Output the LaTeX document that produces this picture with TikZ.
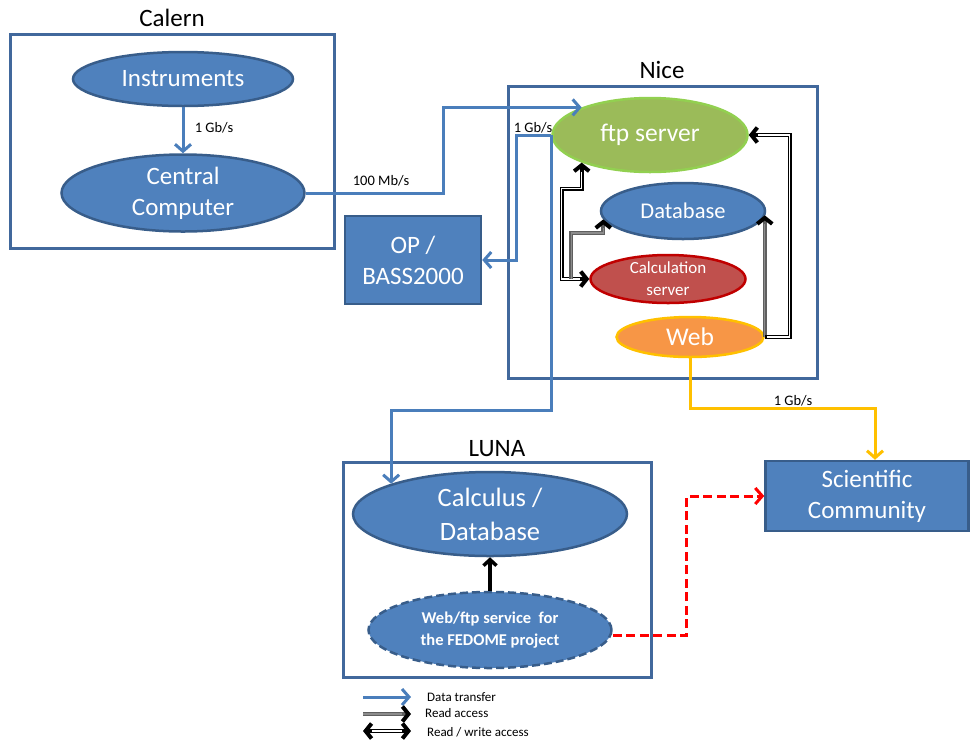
\documentclass[tikz,border=0pt]{standalone}
\usepackage{fontspec}
\setmainfont{Carlito}
\usetikzlibrary{arrows.meta,shapes.geometric,calc}
\definecolor{framec}{HTML}{41689C}
\definecolor{blueF}{HTML}{4F81BD}
\definecolor{blueS}{HTML}{385D8A}
\definecolor{dataC}{HTML}{4A7EBB}
\definecolor{greenF}{HTML}{9BBB59}
\definecolor{greenS}{HTML}{92D050}
\definecolor{redF}{HTML}{C0504D}
\definecolor{redS}{HTML}{C00000}
\definecolor{orangeF}{HTML}{F79646}
\definecolor{yellowS}{HTML}{FFC000}
\definecolor{rdgray}{HTML}{5F5F5F}
\definecolor{rdlight}{HTML}{8C8C8C}
\begin{document}
\begin{tikzpicture}[x=1pt,y=-1pt,
  frame/.style={draw=framec, line width=3pt, minimum width=#1},
  big/.style={font=\fontsize{25}{31}\selectfont},
  lbl/.style={font=\fontsize{14.5}{16}\selectfont, inner sep=0},
  leg/.style={font=\fontsize{13}{15}\selectfont, inner sep=0, anchor=west},
  ell/.style={ellipse, inner sep=0, line width=2.5pt, text=white, align=center},
  bell/.style={ell, draw=blueS, fill=blueF},
  brect/.style={rectangle, inner sep=0, line width=2.5pt, draw=blueS, fill=blueF, text=white, align=center},
  data/.style={draw=dataC, line width=3pt, -{Straight Barb[length=7pt,width=16pt]}},
  rwtwo/.style={line width=4pt, draw=black, {Straight Barb[length=6pt,width=15pt]}-{Straight Barb[length=6pt,width=15pt]},
     postaction={draw=white, line width=1.4pt, arrows=-, shorten >=9pt, shorten <=9pt}},
  rwone/.style={line width=4pt, draw=black, -{Straight Barb[length=6pt,width=15pt]},
     postaction={draw=white, line width=1.4pt, arrows=-, shorten >=9pt, shorten <=2pt}},
  rd/.style={line width=4pt, draw=rdgray, -{Straight Barb[color=black,length=6pt,width=15pt]},
     postaction={draw=rdlight, line width=1.4pt, arrows=-, shorten >=9pt}},
]
\useasboundingbox (0,0) rectangle (971,740);

% frames and titles
\node[frame=324, minimum height=214] (calernbox) at (172,141) {};
\node[big] (calernlbl) at (172,18) {Calern};
\node[frame=309, minimum height=292] (nicebox) at (662.5,232) {};
\node[big] (nicelbl) at (662,70) {Nice};
\node[frame=308, minimum height=215] (lunabox) at (497,569.5) {};
\node[big] (lunalbl) at (497,449) {LUNA};

% Calern
\node[bell, big, minimum width=220, minimum height=54] (inst) at (183,79) {Instruments};
\node[bell, big, minimum width=243, minimum height=77] (cc) at (183,193) {Central\\Computer};

% OP
\node[brect, big, minimum width=136, minimum height=88] (op) at (413,260) {OP /\\BASS2000};

% Nice
\node[ell, draw=greenS, fill=greenF, font=\fontsize{25.5}{30}\selectfont, minimum width=195, minimum height=74] (ftp) at (650,135) {ftp server};
\node[bell, font=\fontsize{22.5}{26}\selectfont, minimum width=164, minimum height=56] (db) at (683,211) {Database};
\node[ell, draw=redS, fill=redF, font=\fontsize{17}{22}\selectfont, minimum width=155, minimum height=48] (calc) at (668,279) {Calculation\\server};
\node[ell, draw=yellowS, fill=orangeF, font=\fontsize{25.5}{30}\selectfont, minimum width=147, minimum height=40] (web) at (690,337) {Web};

% Scientific community
\node[brect, big, minimum width=203, minimum height=70] (sci) at (867,496) {Scientific\\Community};

% LUNA
\node[bell, font=\fontsize{26.5}{34}\selectfont, minimum width=274, minimum height=84] (calcdb) at (490,514) {Calculus /\\Database};
\node[bell, dashed, dash pattern=on 8pt off 4pt, font=\fontsize{16.5}{22}\selectfont\bfseries, minimum width=243, minimum height=76] (fed) at (490,630) {Web/ftp service \ for\\the FEDOME project};

% data transfers
\draw[data] (inst.south) -- (cc.north);
\node[lbl] (l1) at (214,128) {1 Gb/s};
\draw[data] (cc.east) -- ++(138,0) |- (ftp.158);
\node[lbl] (l2) at (381,181) {100 Mb/s};
\draw[data] (ftp.west) -- ++(-35,0) |- (op.east);
\node[lbl] (l3) at (533,128) {1 Gb/s};
\draw[data] (ftp.west) -- ++(0,275) -| (calcdb.163);

% read / write
\draw[rwtwo] (ftp.202) |- ++(-20,26) |- (calc.west);
\draw[rd] ($(calc.west)+(-18,0)$) -- ++(0,-46) -| (db.186);
\draw[rd] (web.east) -- (web.east |- db.-3);
\draw[rwone] (web.east) -- ++(25,0) |- (ftp.east);

% web to community
\draw[draw=yellowS, line width=3pt, -{Straight Barb[length=7pt,width=16pt]}] (web.south) -- ++(0,50) -| ([xshift=8pt]sci.north);
\node[lbl] (l4) at (793,401) {1 Gb/s};

% LUNA internal
\draw[line width=3.5pt, black, -{Straight Barb[length=6pt,width=13pt]}] (fed.north) -- (calcdb.south);
\draw[draw=red, line width=3pt, dash pattern=on 9pt off 4.5pt, -{Straight Barb[length=7pt,width=16pt]}] ([yshift=-5pt]fed.east) -- ++(74,0) |- (sci.west);

% legend
\coordinate (lga) at (363,697);
\coordinate (lgb) at (411,697);
\coordinate (lgc) at (363,714);
\coordinate (lgd) at (411,714);
\coordinate (lge) at (363,731);
\coordinate (lgf) at (411,731);
\draw[data] (lga) -- (lgb);
\draw[rd] (lgc) -- (lgd);
\draw[rwtwo] (lge) -- (lgf);
\node[leg] (t1) at (427,697) {Data transfer};
\node[leg] (t2) at (425,713) {Read access};
\node[leg] (t3) at (427,732) {Read / write access};
\end{tikzpicture}
\end{document}
